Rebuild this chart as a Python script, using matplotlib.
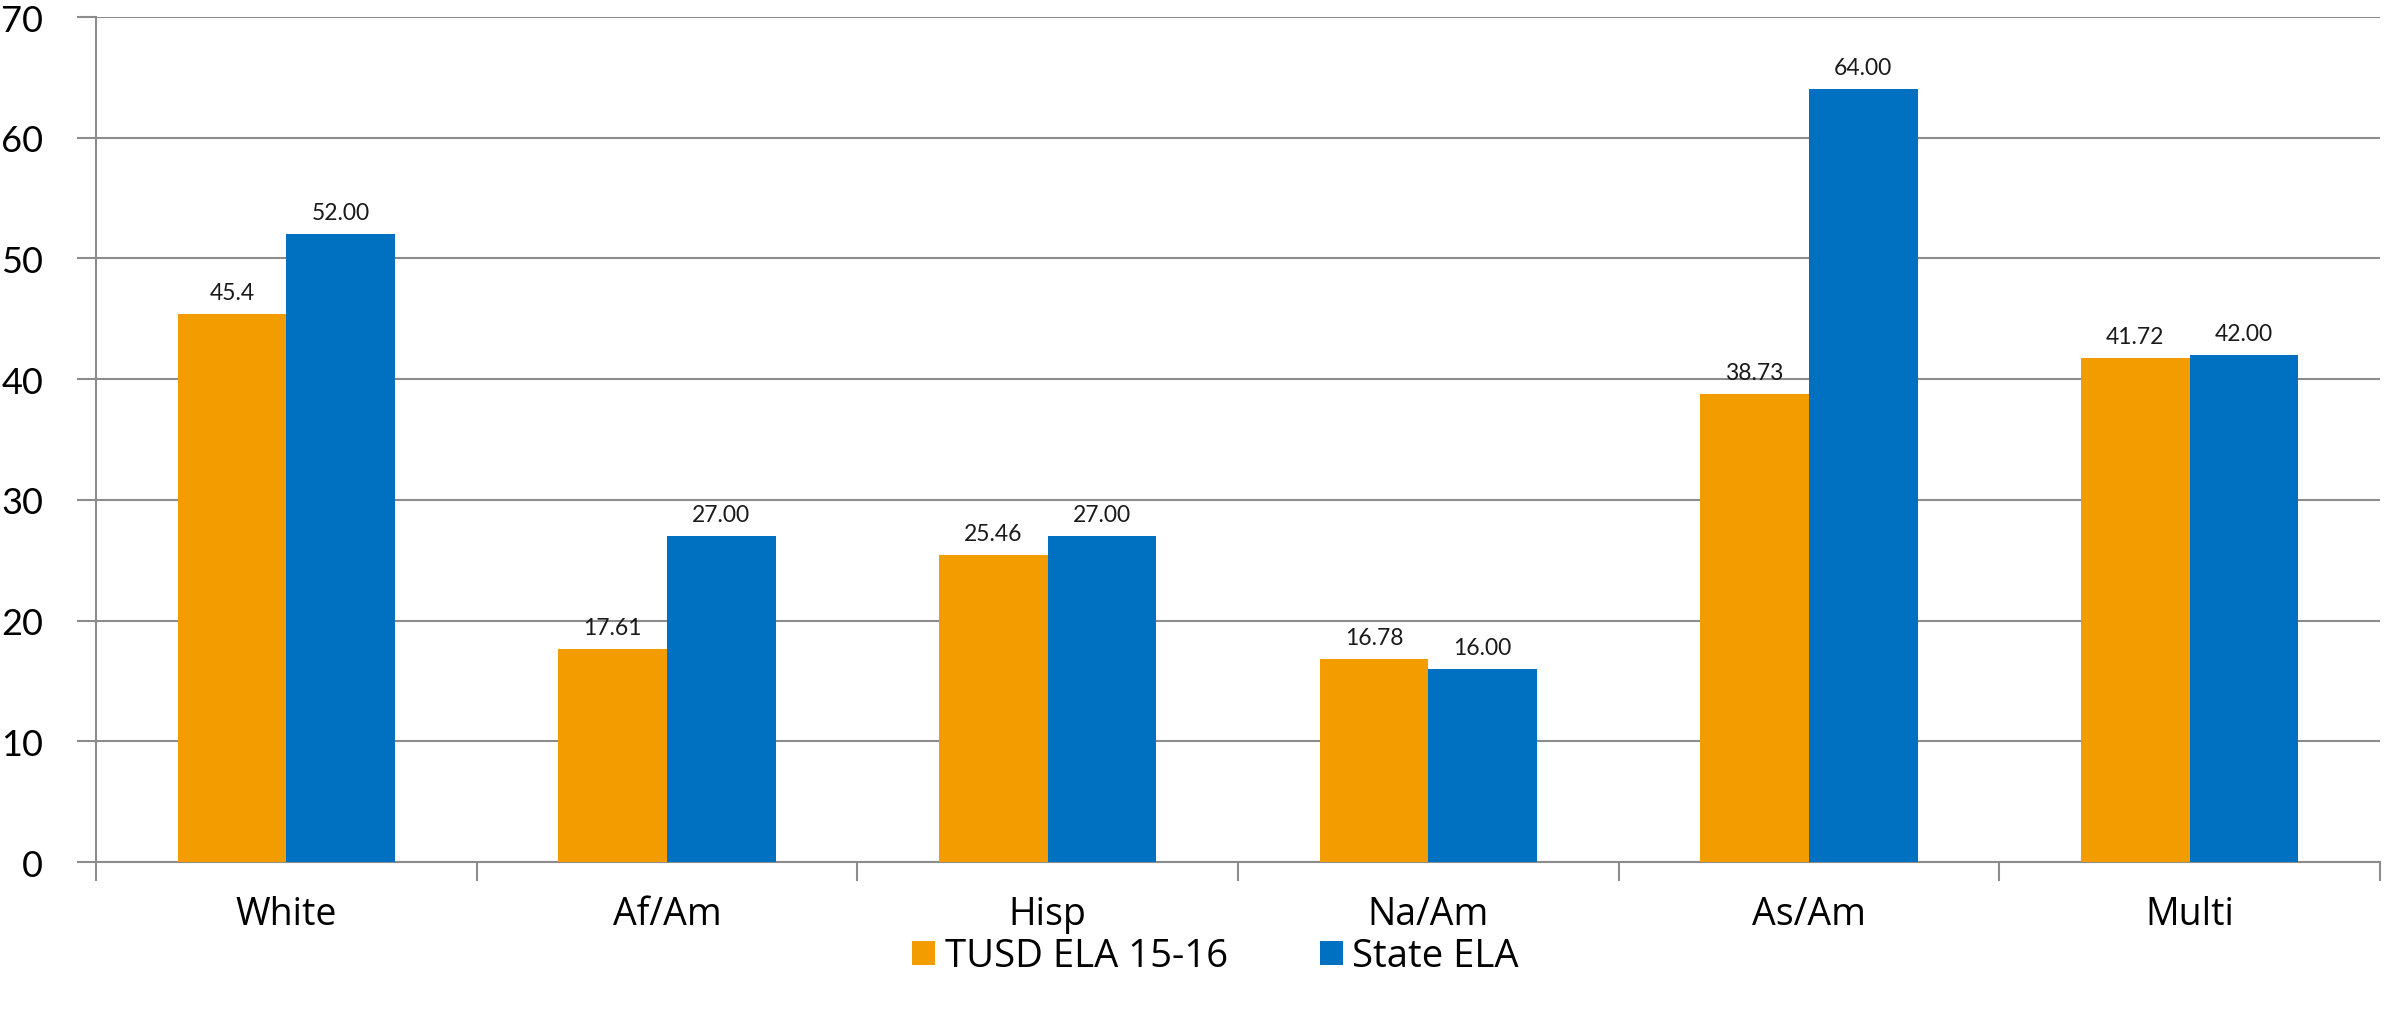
"""Grouped bar chart: TUSD vs State ELA by subgroup"""
import numpy as np
import matplotlib
matplotlib.use("Agg")
import matplotlib.pyplot as plt

# data
groups = ["White", "Af/Am", "Hisp", "Na/Am", "As/Am", "Multi"]
tusd_ela = [45.4, 17.61, 25.46, 16.78, 38.73, 41.72]
state_ela = [52.00, 27.00, 27.00, 16.00, 64.00, 42.00]
tusd_labels = ["45.4", "17.61", "25.46", "16.78", "38.73", "41.72"]
state_labels = ["52.00", "27.00", "27.00", "16.00", "64.00", "42.00"]
series_names = ["TUSD ELA 15-16", "State ELA"]
yticks = [0, 10, 20, 30, 40, 50, 60, 70]

ORANGE = "#F39C00"
BLUE = "#0070C0"
GREY = "#8C8C8C"

fig = plt.figure(figsize=(23.95, 10.12), dpi=100)
ax = fig.add_axes([0.0401, 0.1472, 0.9536, 0.835])

x = np.arange(len(groups))
width = 1 / 3.5  # excel gap width 150%

bars_t = ax.bar(x - width / 2, tusd_ela, width, color=ORANGE,
                label=series_names[0], zorder=3)
bars_s = ax.bar(x + width / 2, state_ela, width, color=BLUE,
                label=series_names[1], zorder=3)

# value labels above the bars
for rects, labels in ((bars_t, tusd_labels), (bars_s, state_labels)):
    for rect, lab in zip(rects, labels):
        ax.annotate(lab, (rect.get_x() + rect.get_width() / 2, rect.get_height()),
                    xytext=(0, 11), textcoords="offset pixels",
                    ha="center", va="bottom", fontsize=16.5, family="Lato",
                    color="#1a1a1a")

ax.set_xlim(-0.5, len(groups) - 0.5)
ax.set_ylim(0, 70)
ax.set_yticks(yticks)
ax.set_yticklabels([str(v) for v in yticks], fontsize=26, family="Lato")
ax.yaxis.grid(True, color=GREY, linewidth=1.5, zorder=0)
ax.set_axisbelow(True)

# category labels centred, tick marks on the boundaries
ax.set_xticks(np.arange(len(groups) + 1) - 0.5)
ax.set_xticklabels([])
ax.set_xticks(x, minor=True)
ax.set_xticklabels(groups, minor=True, fontsize=27, family="Open Sans")
ax.tick_params(axis="x", which="minor", length=0, pad=24)
ax.tick_params(axis="x", which="major", length=14, width=1.5, color=GREY)
ax.tick_params(axis="y", length=14, width=1.5, color=GREY, pad=24)

for side in ("top", "right"):
    ax.spines[side].set_visible(False)
for side in ("left", "bottom"):
    ax.spines[side].set_color(GREY)
    ax.spines[side].set_linewidth(1.5)

fig.legend(loc="center", bbox_to_anchor=(0.5075, 0.054), ncol=2, frameon=False,
           prop={"family": "Open Sans", "size": 27.5}, handlelength=0.6,
           handleheight=0.6, handletextpad=0.25, columnspacing=2.4,
           borderpad=0.1)

fig.savefig("out.png", dpi=100)
